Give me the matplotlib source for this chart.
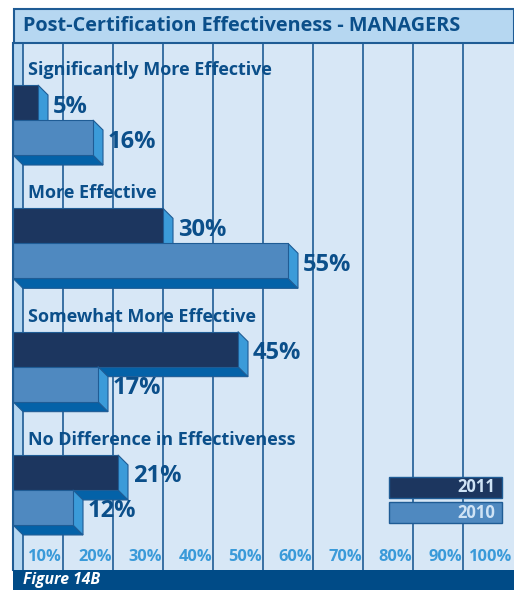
import matplotlib
matplotlib.use("Agg")
import matplotlib.pyplot as plt
from matplotlib.patches import Rectangle, Polygon

plt.rcParams['font.family'] = ['Open Sans', 'DejaVu Sans']

# ---- data ----
categories = ["Significantly More Effective", "More Effective",
              "Somewhat More Effective", "No Difference in Effectiveness"]
values_2011 = [5, 30, 45, 21]
values_2010 = [16, 55, 17, 12]
series_names = ["2011", "2010"]
tick_values = [10, 20, 30, 40, 50, 60, 70, 80, 90, 100]
title = "Post-Certification Effectiveness - MANAGERS"
footer = "Figure 14B"

# ---- style ----
C_BG = "#d7e7f6"
C_WALL = "#b6d7f1"
C_LINE = "#1f5c95"
C_TEXT = "#0b4f8a"
C_TICK = "#3a9ad9"
C_2011 = "#1c365f"
C_2010 = "#4f89c0"
C_SIDE = "#3b9bd9"
C_BOTTOM = "#0462a8"
C_BANNER = "#004b87"

W, H = 514, 590
fig = plt.figure(figsize=(W / 100, H / 100), dpi=100)
fig.patch.set_facecolor("white")

def fx(px):
    return px / W

def fy(py):
    return 1 - py / H

# plot axes: x 13..514 px, y 43..570 px
ax = fig.add_axes([fx(13), fy(570), fx(514) - fx(13), fy(43) - fy(570)])
ax.set_facecolor(C_BG)
ax.set_xlim(0, 100.2)
unit = 123.3  # px per category
ax.set_ylim(3.791, -0.4826)
for s in ax.spines.values():
    s.set_visible(False)
ax.spines['left'].set_visible(True)
ax.spines['left'].set_color(C_LINE)
ax.spines['left'].set_linewidth(1.5)
ax.set_xticks([])
ax.set_yticks([])

dx = 2.0            # depth in percent
dy = 10 / unit      # depth in category units
bh = 35 / unit      # bar height

# wall
ax.axvspan(0, dx, color=C_WALL, zorder=0.5, lw=0)
ax.axvline(dx, color=C_LINE, lw=1.2, zorder=0.6)
for t in tick_values[:-1]:
    ax.axvline(t, color=C_LINE, lw=1.2, zorder=0.6)

def bar3d(v, yc, face):
    top = yc - bh / 2
    bot = yc + bh / 2
    ec = C_LINE
    ax.add_patch(Polygon([(0, bot), (v, bot), (v + dx, bot + dy), (dx, bot + dy)],
                         closed=True, fc=C_BOTTOM, ec=ec, lw=0.8, zorder=2))
    ax.add_patch(Polygon([(v, top), (v + dx, top + dy), (v + dx, bot + dy), (v, bot)],
                         closed=True, fc=C_SIDE, ec=ec, lw=0.8, zorder=2))
    ax.barh([yc], [v], height=bh, left=0, color=face, edgecolor=ec, lw=0.8, zorder=2)

for i, cat in enumerate(categories):
    y11 = i
    y10 = i + bh
    bar3d(values_2011[i], y11, C_2011)
    bar3d(values_2010[i], y10, C_2010)
    ax.text(3, i - bh / 2 - 15 / unit, cat, ha='left', va='center',
            fontsize=13, fontweight='bold', color=C_TEXT, zorder=3)
    ax.text(values_2011[i] + dx + 1.0, y11 + 4 / unit, f"{values_2011[i]}%",
            ha='left', va='center', fontsize=17, fontweight='bold', color=C_TEXT, zorder=3)
    ax.text(values_2010[i] + dx + 1.0, y10 + 4 / unit, f"{values_2010[i]}%",
            ha='left', va='center', fontsize=17, fontweight='bold', color=C_TEXT, zorder=3)

# tick labels inside plot
for t in tick_values:
    ax.text(t - 0.2, (570 - 557) / 527, f"{t}%", transform=ax.get_xaxis_transform(),
            ha='right', va='center', fontsize=11.8, fontweight='bold', color=C_TICK, zorder=3)

# legend
for k, (name, col) in enumerate(zip(series_names, [C_2011, C_2010])):
    y0 = 477 + k * 25
    fig.patches.append(Rectangle((fx(389), fy(y0 + 21)), fx(502) - fx(389), fy(y0) - fy(y0 + 21),
                                 transform=fig.transFigure, fc=col, ec=C_LINE, lw=1, zorder=5))
    fig.text(fx(495), fy(y0 + 10.5), name, ha='right', va='center', fontsize=12,
             fontweight='bold', color="#cfe3f5", zorder=6)

# title box
fig.patches.append(Rectangle((fx(14), fy(43)), fx(514) - fx(14), fy(9) - fy(43),
                             transform=fig.transFigure, fc=C_WALL, ec=C_LINE, lw=1.5, zorder=4))
fig.text(fx(23), fy(26), title, ha='left', va='center', fontsize=14.3, fontweight='bold',
         color=C_TEXT, zorder=6)

# footer banner
fig.patches.append(Rectangle((fx(13), 0), fx(514) - fx(13), fy(570),
                             transform=fig.transFigure, fc=C_BANNER, ec='none', zorder=4))
fig.text(fx(23), fy(580), footer, ha='left', va='center', fontsize=11.3, fontweight='bold',
         fontstyle='italic', color='white', zorder=6)

fig.savefig("out.png", dpi=100)
